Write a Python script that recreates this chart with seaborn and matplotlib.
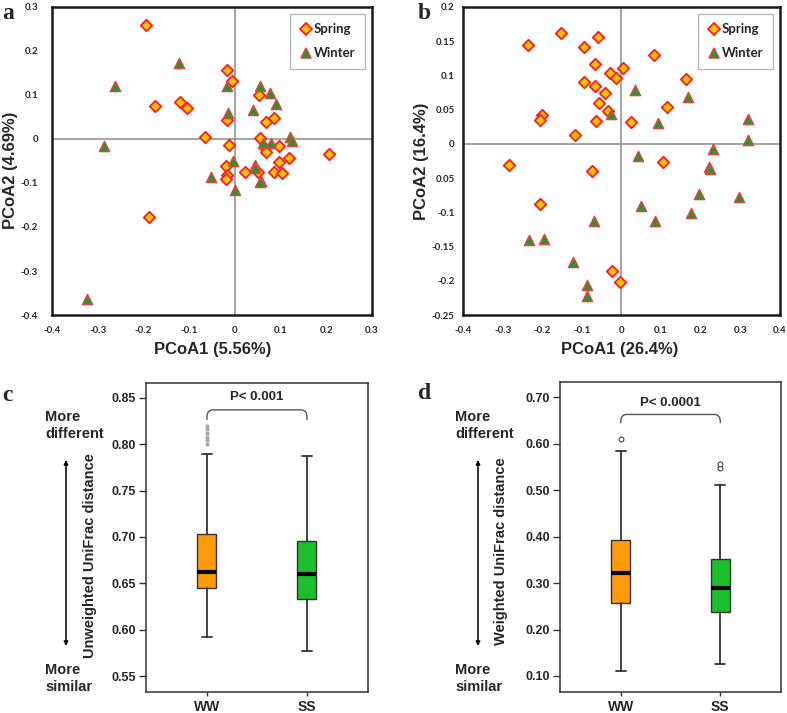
import matplotlib
matplotlib.use("Agg")

import matplotlib.pyplot as plt
from matplotlib.path import Path
from matplotlib.patches import PathPatch
from matplotlib.lines import Line2D
import pandas as pd
import seaborn as sns

# ---- panel a: PCoA (unweighted) ----
a_spring_x = [-0.195, -0.017, -0.007, -0.174, -0.121, -0.104, -0.017, 0.053, 0.086, 0.069,
              -0.066, 0.055, -0.012, 0.066, 0.068, 0.096, 0.118, 0.097, 0.206, -0.020,
              -0.017, -0.020, 0.023, 0.051, 0.086, 0.104, -0.188]
a_spring_y = [0.260, 0.157, 0.132, 0.076, 0.083, 0.070, 0.043, 0.101, 0.048, 0.038,
              0.005, 0.003, -0.014, -0.020, -0.029, -0.017, -0.043, -0.052, -0.034, -0.061,
              -0.082, -0.091, -0.076, -0.076, -0.076, -0.078, -0.178]
a_winter_x = [-0.123, -0.262, -0.017, -0.016, 0.039, 0.056, 0.076, 0.090, -0.287, 0.121,
              0.125, 0.062, 0.079, -0.004, -0.053, 0.043, 0.045, 0.057, 0.055, 0.001, -0.323]
a_winter_y = [0.173, 0.121, 0.121, 0.060, 0.067, 0.120, 0.104, 0.080, -0.017, 0.005,
              -0.005, -0.010, -0.008, -0.051, -0.086, -0.059, -0.067, -0.095, -0.098, -0.117, -0.364]

# ---- panel b: PCoA (weighted) ----
b_spring_x = [-0.236, -0.152, -0.059, -0.095, 0.081, -0.068, -0.030, 0.004, -0.013, -0.095,
              -0.067, -0.042, 0.163, -0.058, -0.035, 0.115, -0.200, -0.205, -0.064, 0.024,
              -0.118, -0.285, -0.074, 0.104, -0.205, -0.024, -0.004]
b_spring_y = [0.145, 0.162, 0.156, 0.142, 0.130, 0.117, 0.104, 0.111, 0.096, 0.090,
              0.084, 0.075, 0.095, 0.059, 0.048, 0.054, 0.042, 0.035, 0.033, 0.032,
              0.013, -0.031, -0.039, -0.026, -0.088, -0.185, -0.202]
b_winter_x = [0.035, -0.026, 0.168, 0.093, 0.319, 0.320, 0.232, 0.041, 0.221, 0.224,
              0.196, 0.296, 0.050, 0.175, 0.084, -0.069, -0.233, -0.195, -0.122, -0.087, -0.086]
b_winter_y = [0.078, 0.043, 0.068, 0.031, 0.037, 0.006, -0.008, -0.018, -0.034, -0.036,
              -0.073, -0.077, -0.091, -0.101, -0.112, -0.113, -0.141, -0.139, -0.173, -0.206, -0.222]

a_xticks = [-0.4, -0.3, -0.2, -0.1, 0, 0.1, 0.2, 0.3]
a_yticks = [-0.4, -0.3, -0.2, -0.1, 0, 0.1, 0.2, 0.3]
a_yticklabels = ["-0.4", "-0.3", "-0.2", "-0.1", "0", "0.1", "0.2", "0.3"]
b_xticks = [-0.4, -0.3, -0.2, -0.1, 0, 0.1, 0.2, 0.3, 0.4]
b_yticks = [-0.25, -0.2, -0.15, -0.1, -0.05, 0, 0.05, 0.1, 0.15, 0.2]
b_yticklabels = ["-0.25", "-0.2", "-0.15", "-0.1", "0.05", "0", "0.05", "0.1", "0.15", "0.2"]

# ---- panels c/d: box summaries (whislo, q1, med, q3, whishi) ----
groups = ["WW", "SS"]
c_ww = [0.592, 0.645, 0.662, 0.703, 0.789]
c_ss = [0.577, 0.633, 0.660, 0.696, 0.787]
c_ww_fliers = [0.800, 0.804, 0.808, 0.812, 0.816, 0.820]
c_ss_fliers = []
d_ww = [0.111, 0.258, 0.321, 0.393, 0.584]
d_ss = [0.125, 0.238, 0.290, 0.351, 0.512]
d_ww_fliers = [0.610]
d_ss_fliers = [0.548, 0.556]

box_colors = {"WW": "#FF9A0A", "SS": "#1CBF2C"}
spring_fill, spring_edge = "#FFC400", "#FF1A1A"
winter_fill, winter_edge = "#1E9A32", "#E0443C"

sns.set_style("white")
plt.rcParams["font.family"] = ["Liberation Sans", "DejaVu Sans"]

fig = plt.figure(figsize=(7.87, 7.13), dpi=100)
ax_a = fig.add_axes([0.0661, 0.5582, 0.4066, 0.4320])
ax_b = fig.add_axes([0.5883, 0.5582, 0.4028, 0.4320])
ax_c = fig.add_axes([0.1855, 0.0295, 0.2821, 0.4334])
ax_d = fig.add_axes([0.7116, 0.0295, 0.2808, 0.4348])


def pcoa_panel(ax, sx, sy, wx, wy, xlim, ylim, xticks, yticks, yticklabels,
               xlabel, ylabel, ypad, ylab_x, ylab_y, xlab_x):
    df = pd.DataFrame({
        "PCoA1": sx + wx,
        "PCoA2": sy + wy,
        "Season": ["Spring"] * len(sx) + ["Winter"] * len(wx),
    })
    ax.axhline(0, color="#8c8c8c", lw=1.1, zorder=1)
    ax.axvline(0, color="#8c8c8c", lw=1.1, zorder=1)
    sns.scatterplot(data=df[df.Season == "Spring"], x="PCoA1", y="PCoA2", ax=ax,
                    marker="D", s=34, color=spring_fill, edgecolor=spring_edge,
                    linewidth=1.3, label="Spring", zorder=3)
    sns.scatterplot(data=df[df.Season == "Winter"], x="PCoA1", y="PCoA2", ax=ax,
                    marker="^", s=52, color=winter_fill, edgecolor=winter_edge,
                    linewidth=1.1, label="Winter", zorder=3)
    ax.set_xlim(*xlim)
    ax.set_ylim(*ylim)
    ax.set_xticks(xticks)
    ax.set_xticklabels([("%g" % t) for t in xticks])
    ax.set_yticks(yticks)
    ax.set_yticklabels(yticklabels)
    ax.tick_params(length=0, labelsize=7, pad=8)
    ax.tick_params(axis="y", pad=ypad)
    for lab in ax.get_xticklabels() + ax.get_yticklabels():
        lab.set_fontfamily("Lato")
        lab.set_fontweight("bold")
    for sp in ax.spines.values():
        sp.set_color("#1a1a1a")
        sp.set_linewidth(1.8)
    ax.set_xlabel(xlabel, fontsize=12, fontweight="bold")
    ax.set_ylabel(ylabel, fontsize=12, fontweight="bold")
    ax.xaxis.set_label_coords(xlab_x, -0.088)
    ax.yaxis.set_label_coords(ylab_x, ylab_y)
    handles = [
        Line2D([], [], marker="D", ls="", ms=6, mfc=spring_fill, mec=spring_edge, mew=1.3),
        Line2D([], [], marker="^", ls="", ms=7, mfc=winter_fill, mec=winter_edge, mew=1.1),
    ]
    leg = ax.legend(handles, ["Spring", "Winter"], loc="upper right",
                    bbox_to_anchor=(0.985, 0.985), fancybox=False, frameon=True,
                    edgecolor="#a0a0a0", handletextpad=0.1, handlelength=1.0,
                    borderpad=0.7, labelspacing=0.9, borderaxespad=0.2,
                    prop={"family": "Lato", "weight": "bold", "size": 9.5})
    leg.get_frame().set_linewidth(0.9)


pcoa_panel(ax_a, a_spring_x, a_spring_y, a_winter_x, a_winter_y,
           (-0.4, 0.3), (-0.4, 0.3), a_xticks, a_yticks, a_yticklabels,
           "PCoA1 (5.56%)", "PCoA2 (4.69%)", 10, -0.105, 0.47, 0.503)
pcoa_panel(ax_b, b_spring_x, b_spring_y, b_winter_x, b_winter_y,
           (-0.4, 0.4), (-0.25, 0.2), b_xticks, b_yticks, b_yticklabels,
           "PCoA1 (26.4%)", "PCoA2 (16.4%)", 6, -0.106, 0.5, 0.495)


def bracket(ax, x0, x1, y_end, y_top, rx, ry):
    verts = [(x0, y_end), (x0, y_top - ry), (x0, y_top), (x0 + rx, y_top),
             (x1 - rx, y_top), (x1, y_top), (x1, y_top - ry), (x1, y_end)]
    codes = [Path.MOVETO, Path.LINETO, Path.CURVE3, Path.CURVE3,
             Path.LINETO, Path.CURVE3, Path.CURVE3, Path.LINETO]
    ax.add_patch(PathPatch(Path(verts, codes), fill=False, edgecolor="#555555", lw=1.0))


def box_panel(ax, ww, ss, ww_fl, ss_fl, ylim, yticks, fmt, ylabel, flier_style,
              p_text, br_end, br_top, p_y, ry):
    sets = [(0, "WW", ww, ww_fl), (1, "SS", ss, ss_fl)]
    for pos, name, st, fl in sets:
        stats = [dict(label=name, whislo=st[0], q1=st[1], med=st[2], q3=st[3],
                      whishi=st[4], fliers=fl)]
        ax.bxp(stats, positions=[pos], widths=0.19, capwidths=0.1, patch_artist=True,
               boxprops=dict(facecolor=box_colors[name], edgecolor="#333333", lw=1.0),
               medianprops=dict(color="black", lw=3),
               whiskerprops=dict(color="#333333", lw=1.3),
               capprops=dict(color="#333333", lw=1.3),
               flierprops=flier_style, manage_ticks=False)
    ax.set_xlim(-0.61, 1.61)
    ax.set_ylim(*ylim)
    ax.set_xticks([0, 1])
    ax.set_xticklabels(groups)
    ax.set_yticks(yticks)
    ax.set_yticklabels([fmt % t for t in yticks])
    ax.tick_params(axis="both", length=5, width=1, color="#333333", direction="out",
                   labelsize=9, pad=2, left=True, bottom=True)
    ax.tick_params(axis="x", length=3, pad=3, labelsize=10)
    for lab in ax.get_xticklabels() + ax.get_yticklabels():
        lab.set_fontweight("bold")
    for sp in ax.spines.values():
        sp.set_color("#333333")
        sp.set_linewidth(1.1)
    ax.set_ylabel(ylabel, fontsize=10.5, fontweight="bold")
    bracket(ax, 0, 1, br_end, br_top, 0.06, ry)
    ax.text(0.5, p_y, p_text, ha="center", va="center", fontsize=9.5, fontweight="bold")


box_panel(ax_c, c_ww, c_ss, c_ww_fliers, c_ss_fliers, (0.533, 0.866),
          [0.55, 0.60, 0.65, 0.70, 0.75, 0.80, 0.85], "%.2f",
          "Unweighted UniFrac distance",
          dict(marker="o", ms=2, mfc="#aaaaaa", mec="#aaaaaa", ls=""),
          "P< 0.001", 0.826, 0.837, 0.851, 0.008)
box_panel(ax_d, d_ww, d_ss, d_ww_fliers, d_ss_fliers, (0.0656, 0.733),
          [0.10, 0.20, 0.30, 0.40, 0.50, 0.60, 0.70], "%.2f",
          "Weighted UniFrac distance",
          dict(marker="o", ms=3.5, mfc="white", mec="#444444", mew=0.8, ls=""),
          "P< 0.0001", 0.644, 0.663, 0.688, 0.015)
ax_c.yaxis.set_label_coords(-0.22, 0.443)
ax_d.yaxis.set_label_coords(-0.235, 0.455)

# side annotations for c and d
for x_txt, x_arr in [(45 / 787, 66 / 787), (455 / 787, 478 / 787)]:
    fig.text(x_txt, 1 - 410 / 713, "More\ndifferent", ha="left", va="top",
             fontsize=10.5, fontweight="bold", linespacing=1.3)
    fig.text(x_txt, 1 - 663 / 713, "More\nsimilar", ha="left", va="top",
             fontsize=10.5, fontweight="bold", linespacing=1.3)
    ax_c.annotate("", xy=(x_arr, 1 - 460 / 713), xytext=(x_arr, 1 - 646 / 713),
                  xycoords="figure fraction", textcoords="figure fraction",
                  arrowprops=dict(arrowstyle="<|-|>", color="black", lw=1.1,
                                  mutation_scale=6, shrinkA=0, shrinkB=0))

# panel letters
for x, y, letter in [(2, 3, "a"), (418, 3, "b"), (2, 385, "c"), (418, 383, "d")]:
    fig.text(x / 787, 1 - y / 713, letter, ha="left", va="top", fontsize=17,
             fontweight="bold", family="Liberation Serif")

fig.savefig("out.png", dpi=100)
plt.close(fig)
